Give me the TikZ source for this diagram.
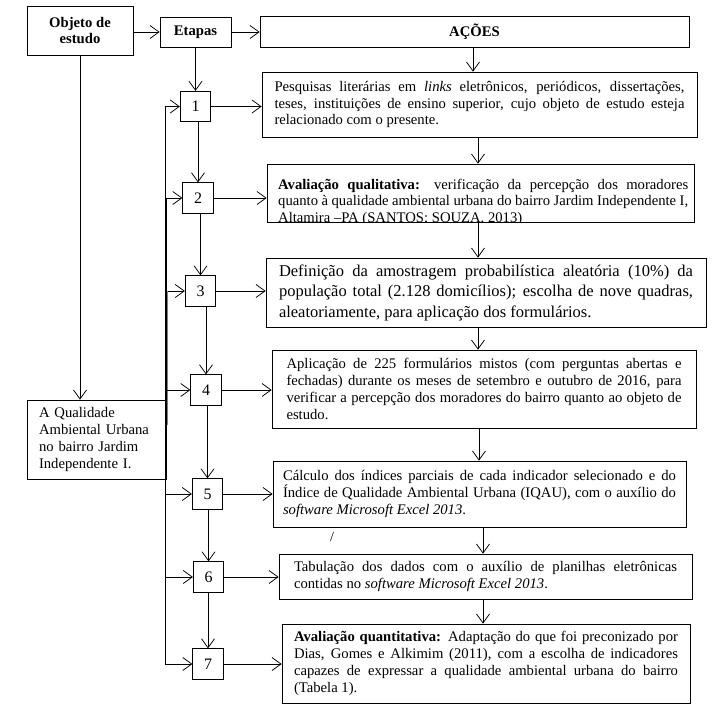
\documentclass[tikz,border=0pt]{standalone}
\usepackage{fontspec}
\setmainfont{Liberation Serif}
\usetikzlibrary{arrows.meta}
\hyphenpenalty=10000
\exhyphenpenalty=10000
\tolerance=10000
\begin{document}
\begin{tikzpicture}[x=1pt,y=-1pt,
  every node/.style={inner sep=0pt},
  bx/.style={draw, line width=0.75pt, rectangle, inner sep=0pt},
  act/.style={bx, align=justify, font=\fontsize{14.67}{16.9}\selectfont},
  num/.style={bx, minimum width=30.5pt, minimum height=30.5pt, font=\fontsize{16}{18}\selectfont},
  ttl/.style={bx, align=center, font=\bfseries\fontsize{14.67}{16}\selectfont},
  arr/.style={line width=0.75pt, -{Straight Barb[length=9pt,width=13pt,line width=0.75pt]}},
  ln/.style={line width=0.75pt}]
\useasboundingbox (0,0) rectangle (714,711);

% title boxes
\node[ttl, minimum width=106pt, minimum height=49pt] (obj) at (80,30.5) {Objeto de\\estudo};
\node[ttl, minimum width=71pt, minimum height=30pt] (etapas) at (195.5,32) {Etapas};
\node[ttl, minimum width=429pt, minimum height=31pt] (acoes) at (474.5,31.5) {AÇÕES};

% left box
\node[bx, minimum width=139pt, minimum height=79pt, text width=115pt, align=left,
  font=\fontsize{14.67}{16.7}\selectfont] (qual) at (96.5,439.5)
  {A Qualidade\\Ambiental Urbana\\no bairro Jardim\\Independente I.};

% action boxes
\node[act, minimum width=435pt, minimum height=65pt, text width=410pt] (a1) at (479.5,104.5)
  {Pesquisas literárias em \textit{links} eletrônicos, periódicos, dissertações,\linebreak teses, instituições de ensino superior, cujo objeto de estudo esteja\linebreak relacionado com o presente.};

\node[bx, minimum width=427pt, minimum height=58pt] (a2) at (480.5,193) {};
\begin{scope}
  \clip (a2.south west) rectangle (a2.north east);
  \node[anchor=north west, text width=410pt, align=justify, font=\fontsize{14.67}{16.5}\selectfont] (a2t) at (278,178.5)
  {\textbf{Avaliação qualitativa:} verificação da percepção dos moradores\linebreak quanto à qualidade ambiental urbana do bairro Jardim Independente I,\linebreak Altamira –PA (SANTOS; SOUZA, 2013)};
\end{scope}

\node[bx, align=justify, font=\fontsize{16.5}{20.5}\selectfont, minimum width=440pt, minimum height=69pt, text width=414pt] (a3) at (486,292.5)
  {Definição da amostragem probabilística aleatória (10\%) da\linebreak população total (2.128 domicílios); escolha de nove quadras,\linebreak aleatoriamente, para aplicação dos formulários.};

\node[act, minimum width=424pt, minimum height=78pt, text width=395pt] (a4) at (484,389)
  {Aplicação de 225 formulários mistos (com perguntas abertas e\linebreak fechadas) durante os meses de setembro e outubro de 2016, para\linebreak verificar a percepção dos moradores do bairro quanto ao objeto de\linebreak estudo.};

\node[act, minimum width=413pt, minimum height=66pt, text width=393pt] (a5) at (479.5,494)
  {Cálculo dos índices parciais de cada indicador selecionado e do\linebreak Índice de Qualidade Ambiental Urbana (IQAU), com o auxílio do\linebreak \textit{software Microsoft Excel 2013}.};

\node[act, minimum width=413pt, minimum height=45pt, text width=383pt] (a6) at (485.5,576.5)
  {Tabulação dos dados com o auxílio de planilhas eletrônicas\linebreak contidas no \textit{software Microsoft Excel 2013}.\par\vspace*{5pt}};

\node[act, minimum width=408pt, minimum height=79pt, text width=384pt] (a7) at (486,663.5)
  {\textbf{Avaliação quantitativa:} Adaptação do que foi preconizado por\linebreak Dias, Gomes e Alkimim (2011), com a escolha de indicadores\linebreak capazes de expressar a qualidade ambiental urbana do bairro\linebreak (Tabela 1).};

\node[font=\fontsize{14}{16}\selectfont] (sl) at (332,537) {/};

% number boxes
\node[num] (n1) at (195.5,106.5) {1};
\node[num] (n2) at (198,198) {2};
\node[num] (n3) at (200.5,291) {3};
\node[num] (n4) at (206,390) {4};
\node[num] (n5) at (207.5,494) {5};
\node[num] (n6) at (208.5,577) {6};
\node[num] (n7) at (208,664) {7};

% top connectors
\draw[arr] (obj.east |- etapas.west) -- (etapas.west);
\draw[arr] (etapas.east) -- (etapas.east -| acoes.west);
\draw[arr] (etapas.south -| n1.north) -- (n1.north);
\draw[arr] (obj.south) -- (obj.south |- qual.north);

% action column connectors
\coordinate (colA) at (473,0);
\coordinate (colB) at (478,0);
\coordinate (colC) at (479,0);
\coordinate (colD) at (483,0);
\draw[arr] (acoes.south -| colA) -- (a1.north -| colA);
\draw[arr] (a1.south -| colB) -- (a2.north -| colB);
\draw[arr] (a2.south -| colB) -- (a3.north -| colB);
\draw[arr] (a3.south -| colB) -- (a4.north -| colB);
\draw[arr] (a4.south -| colC) -- (a5.north -| colC);
\draw[arr] (a5.south -| colD) -- (a6.north -| colD);
\draw[arr] (a6.south -| colD) -- (a7.north -| colD);

% number chain
\draw[arr] (n1.south -| n2.north) -- (n2.north);
\draw[arr] (n2.south -| n3.north) -- (n3.north);
\draw[arr] (n3.south -| n4.north) -- (n4.north);
\draw[arr] (n4.south -| n5.north) -- (n5.north);
\draw[arr] (n5.south -| n6.north) -- (n6.north);
\draw[arr] (n6.south -| n7.north) -- (n7.north);

% number -> action
\draw[arr] (n1.east) -- (n1.east -| a1.west);
\draw[arr] (n2.east) -- (n2.east -| a2.west);
\draw[arr] (n3.east) -- (n3.east -| a3.west);
\draw[arr] (n4.east) -- (n4.east -| a4.west);
\draw[arr] (n5.east) -- (n5.east -| a5.west);
\draw[arr] (n6.east) -- (n6.east -| a6.west);
\draw[arr] (n7.east) -- (n7.east -| a7.west);

% left bus
\coordinate (bus) at (165,0);
\coordinate (busB) at (166.3,0);
\coordinate (busC) at (167.8,0);
\coordinate (dblend) at (166.3,425);
\draw[ln] (bus |- n1.west) -- (bus |- n7.west);
\draw[ln] (busB |- n2.west) -- (dblend);
\draw[ln, gray] (busC |- n3.west) -- (busC |- dblend);
\draw[arr] (bus |- n1.west) -- (n1.west);
\draw[arr] (bus |- n2.west) -- (n2.west);
\draw[arr] (busC |- n3.west) -- (n3.west);
\draw[arr] (bus |- n4.west) -- (n4.west);
\draw[arr] (bus |- n5.west) -- (n5.west);
\draw[arr] (bus |- n6.west) -- (n6.west);
\draw[arr] (bus |- n7.west) -- (n7.west);
\end{tikzpicture}
\end{document}
